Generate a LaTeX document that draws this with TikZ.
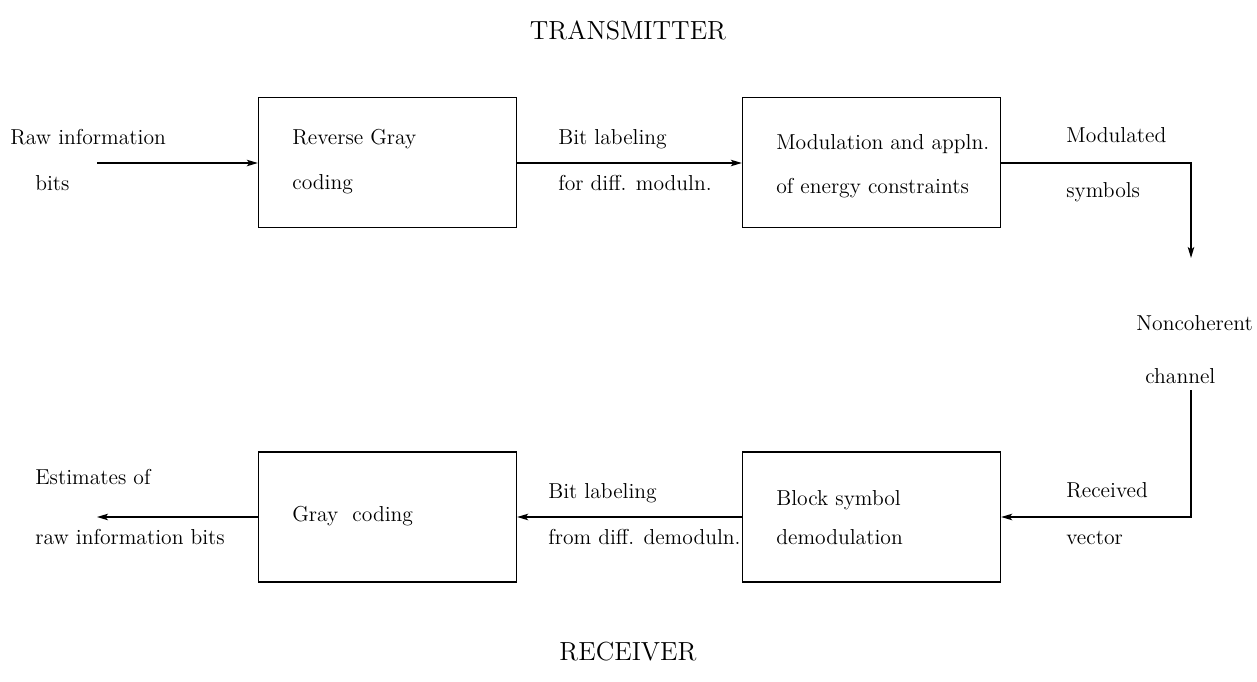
\documentclass[tikz,border=0pt]{standalone}
\usetikzlibrary{arrows.meta}
\begin{document}
\begin{tikzpicture}[x=0.02cm,y=-0.02cm,
  blk/.style={draw,line width=0.8pt,minimum width=5.16cm,minimum height=2.6cm,inner sep=0pt},
  lbl/.style={anchor=mid west,inner sep=0pt,font=\fontsize{12.3}{14}\selectfont},
  ttl/.style={inner sep=0pt,font=\fontsize{14.9}{18}\selectfont},
  con/.style={line width=0.8pt,-{Stealth[length=0.22cm,width=0.13cm,inset=0.05cm]}},
  ln/.style={line width=0.8pt}]
\useasboundingbox (0,0) rectangle (1257,682);
% titles
\node[ttl] (tx) at (628,30) {TRANSMITTER};
\node[ttl] (rx) at (628,652) {RECEIVER};
% blocks
\node[blk] (b1) at (387.5,162.5) {};
\node[blk] (b2) at (871.5,162.5) {};
\node[blk] (b3) at (387.5,517) {};
\node[blk] (b4) at (871.5,517) {};
% block texts
\node[lbl] (t1a) at (292,141) {Reverse Gray};
\node[lbl] (t1b) at (292,186) {coding};
\node[lbl] (t2a) at (776,146) {Modulation and appln.};
\node[lbl] (t2b) at (776,190) {of energy constraints};
\node[lbl] (t3a) at (292,518) {Gray\ \ coding};
\node[lbl] (t4a) at (776,502) {Block symbol};
\node[lbl] (t4b) at (776,541) {demodulation};
% edge labels
\node[lbl] (in1) at (10,141) {Raw information};
\node[lbl] (in2) at (35,187) {bits};
\node[lbl] (bl1) at (558,141) {Bit labeling};
\node[lbl] (bl2) at (558,187) {for diff. moduln.};
\node[lbl] (ms1) at (1066,139) {Modulated};
\node[lbl] (ms2) at (1066,194) {symbols};
\node[lbl] (ch1) at (1136,327) {Noncoherent};
\node[lbl] (ch2) at (1145,380) {channel};
\node[lbl] (rv1) at (1066,494) {Received};
\node[lbl] (rv2) at (1066,541) {vector};
\node[lbl] (bd1) at (548,495) {Bit labeling};
\node[lbl] (bd2) at (548,541) {from diff. demoduln.};
\node[lbl] (es1) at (35,481) {Estimates of};
\node[lbl] (es2) at (35,541) {raw information bits};
% coordinates
\coordinate (src) at (97,163);
\coordinate (c1) at (1191,163);
\coordinate (chtop) at (1191,258);
\coordinate (chbot) at (1191,390);
\coordinate (c2) at (1191,517);
\coordinate (dst) at (97,517);
% connectors
\draw[con] (src) -- (src -| b1.west);
\draw[con] (b1.east |- src) -- (b2.west |- src);
\draw[con] (b2.east |- c1) -- (c1) -- (chtop);
\draw[con] (chbot) -- (c2) -- (b4.east);
\draw[con] (b4.west) -- (b3.east);
\draw[con] (b3.west) -- (dst);
\end{tikzpicture}
\end{document}
